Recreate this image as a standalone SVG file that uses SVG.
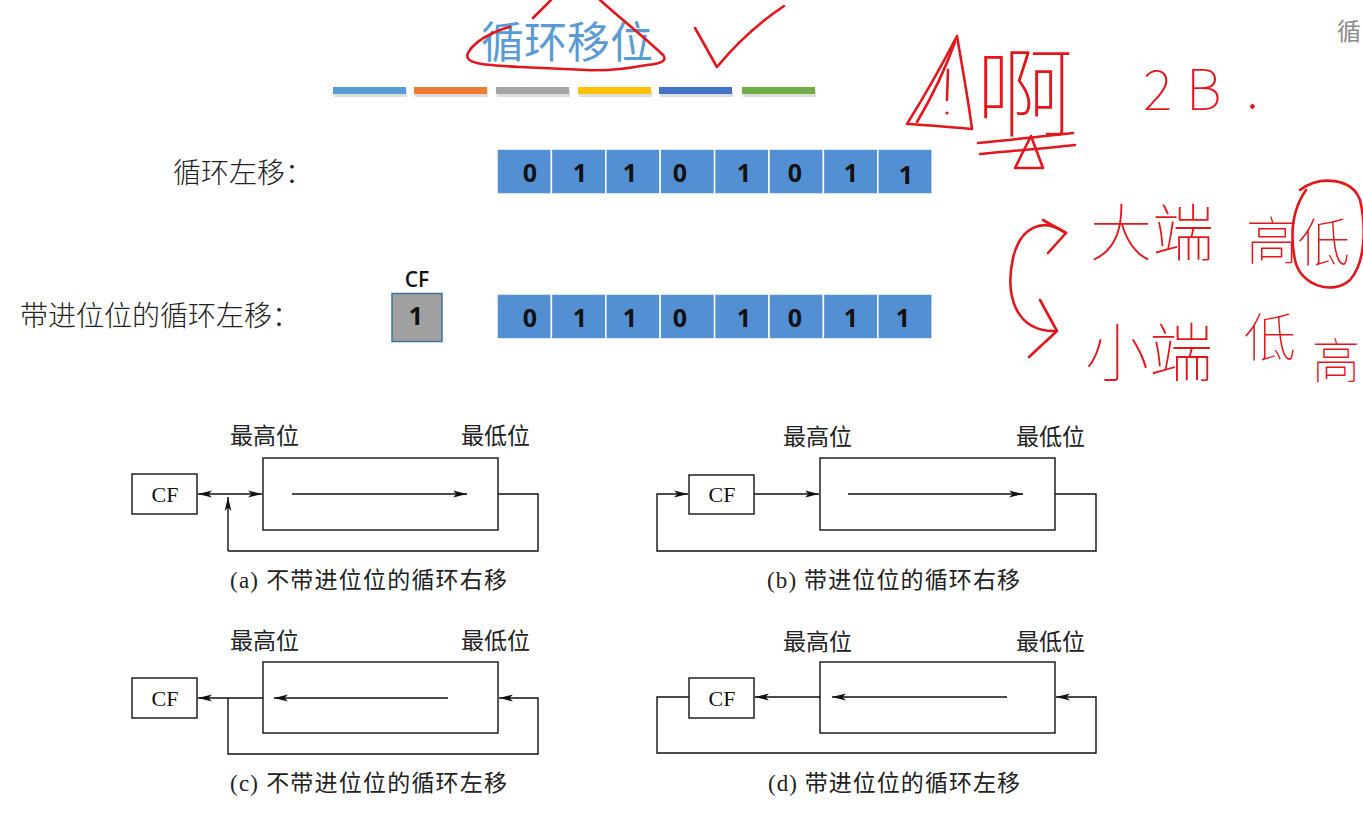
<svg xmlns="http://www.w3.org/2000/svg" width="1363" height="815" viewBox="0 0 1363 815">
<style>
.cjk{font-family:"Noto Sans CJK SC","Noto Sans",sans-serif;}
.lbl{font-family:"Noto Sans CJK SC",sans-serif;font-size:28px;fill:#222;font-weight:300;}
.cell{fill:#5390D3;stroke:#ffffff;stroke-width:1.5;}
.dig{font-family:"Open Sans","Liberation Sans",sans-serif;font-size:25px;font-weight:700;fill:#111;text-anchor:middle;}
.box{fill:#fff;stroke:#111;stroke-width:1.4;}
.ln{fill:none;stroke:#111;stroke-width:1.4;}
.pos{font-family:"Noto Sans CJK SC",sans-serif;font-size:23px;fill:#222;}
.cap{font-family:"Liberation Serif","Noto Sans CJK SC",serif;font-size:23px;fill:#222;}
.cf{font-family:"Liberation Serif",serif;font-size:22px;fill:#111;text-anchor:middle;}
.red{fill:none;stroke:#E3161B;stroke-width:2.6;stroke-linecap:round;stroke-linejoin:round;}
.hw{font-family:"Noto Sans CJK SC",sans-serif;fill:#E3161B;font-weight:100;}
</style>
<defs>
<marker id="ah" viewBox="0 0 14 8" refX="14" refY="4" markerWidth="14" markerHeight="8" orient="auto-start-reverse" markerUnits="userSpaceOnUse">
<path d="M0,0.6 L14,4 L0,7.4 L3.5,4 Z" fill="#111"/>
</marker>
</defs>
<rect width="1363" height="815" fill="#ffffff"/>

<g id="title">
<text x="567" y="58" text-anchor="middle" class="cjk" font-size="43" fill="#5B9BD5">循环移位</text>
</g>
<g id="color-bars">
<g fill="#c8c8c8" opacity="0.6">
<rect x="334" y="90" width="73" height="7"/><rect x="415" y="90" width="73" height="7"/><rect x="497" y="90" width="73" height="7"/><rect x="579" y="90" width="73" height="7"/><rect x="660" y="90" width="73" height="7"/><rect x="743" y="90" width="73" height="7"/>
</g>
<rect x="333" y="87" width="73" height="7" fill="#5B9BD5"/>
<rect x="414" y="87" width="73" height="7" fill="#ED7D31"/>
<rect x="496" y="87" width="73" height="7" fill="#A5A5A5"/>
<rect x="578" y="87" width="73" height="7" fill="#FFC000"/>
<rect x="659" y="87" width="73" height="7" fill="#4472C4"/>
<rect x="742" y="87" width="73" height="7" fill="#70AD47"/>
</g>

<g id="row1-label"><text x="173" y="183" class="lbl">循环左移：</text></g>
<g id="row1-bits">
<rect class="cell" x="497" y="149" width="54.4" height="45"/>
<rect class="cell" x="551.4" y="149" width="54.4" height="45"/>
<rect class="cell" x="605.8" y="149" width="54.4" height="45"/>
<rect class="cell" x="660.2" y="149" width="54.4" height="45"/>
<rect class="cell" x="714.6" y="149" width="54.4" height="45"/>
<rect class="cell" x="769" y="149" width="54.4" height="45"/>
<rect class="cell" x="823.4" y="149" width="54.4" height="45"/>
<rect class="cell" x="877.8" y="149" width="54.4" height="45"/>
<text class="dig" x="530" y="182">0</text>
<text class="dig" x="580" y="182">1</text>
<text class="dig" x="630" y="182">1</text>
<text class="dig" x="680" y="182">0</text>
<text class="dig" x="744" y="182">1</text>
<text class="dig" x="795" y="182">0</text>
<text class="dig" x="851" y="182">1</text>
<text class="dig" x="906" y="184">1</text>
</g>

<g id="row2-label"><text x="20" y="326" class="lbl">带进位位的循环左移：</text></g>
<g id="cf-bit">
<text x="417" y="287" text-anchor="middle" font-family="Open Sans, Liberation Sans, sans-serif" font-size="21" font-weight="600" fill="#111">CF</text>
<rect x="392" y="293.5" width="50" height="48" fill="#A0A0A0" stroke="#41719C" stroke-width="1.5"/>
<text class="dig" x="416" y="325">1</text>
</g>
<g id="row2-bits">
<rect class="cell" x="497" y="294" width="54.4" height="45"/>
<rect class="cell" x="551.4" y="294" width="54.4" height="45"/>
<rect class="cell" x="605.8" y="294" width="54.4" height="45"/>
<rect class="cell" x="660.2" y="294" width="54.4" height="45"/>
<rect class="cell" x="714.6" y="294" width="54.4" height="45"/>
<rect class="cell" x="769" y="294" width="54.4" height="45"/>
<rect class="cell" x="823.4" y="294" width="54.4" height="45"/>
<rect class="cell" x="877.8" y="294" width="54.4" height="45"/>
<text class="dig" x="530" y="327">0</text>
<text class="dig" x="580" y="327">1</text>
<text class="dig" x="630" y="327">1</text>
<text class="dig" x="680" y="327">0</text>
<text class="dig" x="744" y="327">1</text>
<text class="dig" x="795" y="327">0</text>
<text class="dig" x="851" y="327">1</text>
<text class="dig" x="903" y="327">1</text>
</g>

<!-- diagram a -->
<g id="a-cf"><rect class="box" x="132" y="474" width="65" height="40"/><text class="cf" x="165" y="502">CF</text></g>
<g id="a-reg"><rect class="box" x="263" y="458" width="235" height="72"/>
<text class="pos" x="230" y="444">最高位</text><text class="pos" x="461" y="444">最低位</text></g>
<g id="a-caption"><text class="cap" x="230" y="588" textLength="277" lengthAdjust="spacing">(a) 不带进位位的循环右移</text></g>

<!-- diagram b -->
<g id="b-cf"><rect class="box" x="689" y="475" width="65" height="39"/><text class="cf" x="722" y="502">CF</text></g>
<g id="b-reg"><rect class="box" x="820" y="458" width="235" height="72"/>
<text class="pos" x="783" y="445">最高位</text><text class="pos" x="1016" y="445">最低位</text></g>
<g id="b-caption"><text class="cap" x="767" y="588" textLength="253" lengthAdjust="spacing">(b) 带进位位的循环右移</text></g>

<!-- diagram c -->
<g id="c-cf"><rect class="box" x="132" y="678" width="65" height="40"/><text class="cf" x="165" y="706">CF</text></g>
<g id="c-reg"><rect class="box" x="263" y="662" width="235" height="71"/>
<text class="pos" x="230" y="649">最高位</text><text class="pos" x="461" y="649">最低位</text></g>
<g id="c-caption"><text class="cap" x="230" y="791" textLength="277" lengthAdjust="spacing">(c) 不带进位位的循环左移</text></g>

<!-- diagram d -->
<g id="d-cf"><rect class="box" x="689" y="678" width="65" height="40"/><text class="cf" x="722" y="706">CF</text></g>
<g id="d-reg"><rect class="box" x="820" y="662" width="235" height="71"/>
<text class="pos" x="783" y="650">最高位</text><text class="pos" x="1016" y="650">最低位</text></g>
<g id="d-caption"><text class="cap" x="768" y="791" textLength="252" lengthAdjust="spacing">(d) 带进位位的循环左移</text></g>

<g id="connectors">
<path class="ln" d="M198,494 H262" marker-start="url(#ah)" marker-end="url(#ah)"/>
<path class="ln" d="M228,551 V497" marker-end="url(#ah)"/>
<path class="ln" d="M498,494 H538 V551 H228"/>
<path class="ln" d="M292,494 H467" marker-end="url(#ah)"/>

<path class="ln" d="M754,494 H819" marker-end="url(#ah)"/>
<path class="ln" d="M1055,494 H1096 V551 H657 V494 H688" marker-end="url(#ah)"/>
<path class="ln" d="M848,494 H1023" marker-end="url(#ah)"/>

<path class="ln" d="M263,698 H198" marker-end="url(#ah)"/>
<path class="ln" d="M448,698 H274" marker-end="url(#ah)"/>
<path class="ln" d="M228,698 V754 H538 V698 H499" marker-end="url(#ah)"/>

<path class="ln" d="M820,697 H755" marker-end="url(#ah)"/>
<path class="ln" d="M1007,697 H832" marker-end="url(#ah)"/>
<path class="ln" d="M689,697 H657 V753 H1096 V697 H1056" marker-end="url(#ah)"/>
</g>

<g id="annotations">
<path class="red" d="M533,18 L551,0"/>
<path class="red" d="M600,0 C620,18 645,38 663,55 C668,61 660,64 647,65 C625,69 605,71 587,70 C560,69 538,68 520,67 C500,66 485,65 477,63 C468,61 466,57 468,53 C472,45 482,38 493,33 C500,30 505,28 510,27"/>
<path class="red" d="M695,28 C702,40 710,55 717,67 C735,45 760,22 784,6"/>
<path class="red" d="M957,36 C942,65 922,100 907,124 C928,125 950,127 972,129 C968,98 962,66 957,36 Z"/>
<path class="red" d="M955,42 C945,70 930,100 917,122"/>
<path class="red" d="M948,70 L947,100"/>
<circle cx="947" cy="113" r="1.6" fill="#E3161B"/>
<text class="hw" x="976" y="129" font-size="98">啊</text>
<path class="red" d="M978,143 C1010,140 1045,136 1073,133"/>
<path class="red" d="M980,154 C1012,151 1048,148 1075,145"/>
<path class="red" d="M1015,168 L1031,136 L1043,168 Z"/>
<text class="hw" font-size="56"><tspan x="1143" y="110">2</tspan><tspan x="1186" y="110">B</tspan><tspan x="1246" y="108">.</tspan></text>
<path class="red" d="M1066,233 C1042,216 1020,228 1013,258 C1005,295 1015,332 1056,331"/>
<path class="red" d="M1043,220 L1066,233 L1048,253"/>
<path class="red" d="M1040,300 L1057,331 L1029,357"/>
<text class="hw" x="1090" y="256" font-size="62">大端</text>
<text class="hw" x="1246" y="260" font-size="52">高</text>
<text class="hw" x="1298" y="262" font-size="52">低</text>
<path class="red" d="M1300,190 C1320,175 1352,178 1360,200 C1366,225 1366,262 1350,280 C1332,296 1300,285 1295,260 C1290,235 1292,210 1306,190"/>
<text class="hw" x="1085" y="376" font-size="64">小端</text>
<text class="hw" x="1244" y="357" font-size="52">低</text>
<text class="hw" x="1312" y="378" font-size="48">高</text>
<text x="1337" y="40" class="cjk" font-size="24" fill="#8a8a8a">循</text>
</g>
</svg>
